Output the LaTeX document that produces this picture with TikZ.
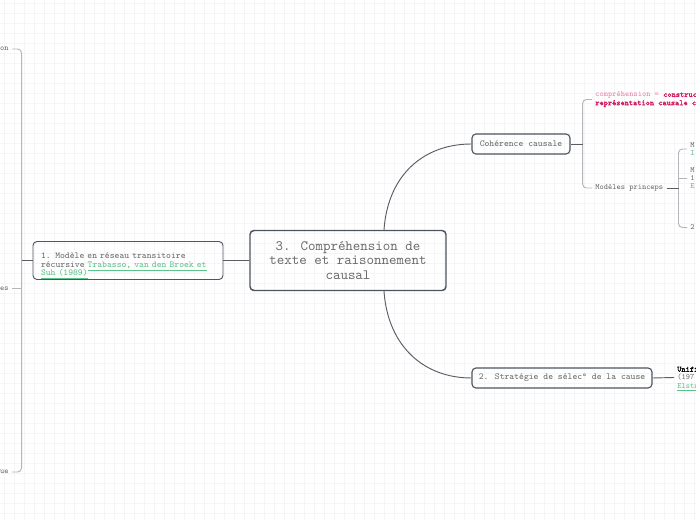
\documentclass[tikz,border=0pt]{standalone}
\usepackage{fontspec}
\newfontfamily\bmono[FakeBold=2.5]{lmmono10-regular.otf}
\usepackage{tikz}
\usepackage{xcolor}
\definecolor{edgegray}{HTML}{4E5560}
\definecolor{txtgray}{HTML}{6A6A6A}
\definecolor{brkgray}{HTML}{B4B6B9}
\definecolor{stubgray}{HTML}{5A5E64}
\definecolor{lnkgreen}{HTML}{5CC38B}
\definecolor{pinktxt}{HTML}{EC7FAA}
\definecolor{redtxt}{HTML}{D3195F}
\definecolor{gridgray}{HTML}{F5F5F7}
\newcommand{\tightlines}{\lineskiplimit=-10pt\relax}
\tikzset{
  topic/.style={draw=edgegray, rounded corners=3pt, line width=0.85pt, text=txtgray, inner sep=0pt},
  small/.style={font=\ttfamily\fontsize{6.85}{6.3}\selectfont\tightlines},
  tiny/.style={font=\ttfamily\fontsize{6}{6.2}\selectfont\tightlines, text=txtgray, inner sep=2.25pt, align=left},
  brk/.style={draw=brkgray, line width=0.7pt},
  stub/.style={draw=stubgray, line width=0.7pt},
  gridline/.style={draw=gridgray, line width=0.4pt}
}
\newcommand{\lnk}[1]{\textcolor{lnkgreen}{\smash{\underline{#1}}}}

\begin{document}
\begin{tikzpicture}[x=0.75pt,y=-0.75pt]
    \clip (0,0) rectangle (696,520);
    \fill[white] (0,0) rectangle (696,520);
    \foreach \g in {4,14,...,694} \draw[gridline] (\g,0)--(\g,520);
    \foreach \g in {3,13,...,513} \draw[gridline] (0,\g)--(696,\g);

    \node[topic, line width=1.1pt, minimum width=147pt, minimum height=45pt, align=center,
          font=\ttfamily\fontsize{10.7}{10.6}\selectfont\tightlines] (cen) at (348,260.5)
          {3. Compréhension de\\texte et raisonnement\\causal};
    \node[topic, small, line width=0.7pt, text width=130.5pt, inner xsep=6pt, minimum height=28.5pt, align=left] (n1) at (128,260.5)
          {\rule{0pt}{10pt}1. Modèle en réseau transitoire\\récursive \lnk{Trabasso, van den Broek et}\\\lnk{Suh (1989)}};
    \node[topic, small, minimum width=73.5pt, minimum height=15pt] (coh) at (521,144) {Cohérence causale};
    \node[topic, small, minimum width=135pt, minimum height=15pt] (strat) at (562,378) {2. Stratégie de sélec° de la cause};

    \draw[stub] (cen.west) -- (n1.east);
    \draw[stub] ([xshift=27pt]cen.north) .. controls ([xshift=30pt,yshift=42pt]cen.north) and ([xshift=-35pt]coh.west) .. (coh.west);
    \draw[stub] ([xshift=27pt]cen.south) .. controls ([xshift=30pt,yshift=-42pt]cen.south) and ([xshift=-35pt]strat.west) .. (strat.west);

    \node[tiny, anchor=east] (on) at (12,49) {on};
    \node[tiny, anchor=east] (es) at (12,288.5) {es};
    \node[tiny, anchor=east] (ue) at (12,472) {ue};
    \coordinate (lx) at ([xshift=-8.25pt]n1.west);
    \draw[brk, rounded corners=3pt] (on.east) -| (lx) |- (ue.east);
    \draw[brk] (es.east) -- (es.east -| lx);
    \draw[stub] (n1.west) -- (lx);

    \node[tiny, anchor=west] (cmp) at (592,99.5)
          {\textcolor{pinktxt}{compréhension =} \textcolor{redtxt}{\bmono construc}\\\textcolor{redtxt}{\bmono représentation causale c}};
    \node[tiny, anchor=west] (mp) at (592,188) {Modèles princeps};
    \coordinate (cx) at ([xshift=9pt]coh.east);
    \draw[brk, rounded corners=3pt] (cmp.west) -| (cx) |- (mp.west);
    \draw[stub] (coh.east) -- (cx);

    \node[tiny, anchor=west] (ma) at (687,149) {M\\\textcolor{lnkgreen}{I}};
    \node[tiny, anchor=west] (mb) at (687,178) {M\\1\\\textcolor{lnkgreen}{E}};
    \node[tiny, anchor=west] (mc) at (687,227.5) {2};
    \coordinate (bx) at ([xshift=9pt]mp.east);
    \draw[brk, rounded corners=3pt] (ma.west) -| (bx) |- (mc.west);
    \draw[brk] (mb.west) -- (mb.west -| bx);
    \draw[stub] (mp.east) -- (bx);

    \node[tiny, anchor=west] (uni) at (674,377.5)
          {\textcolor{black}{\bmono Unifi}\\(197\\\lnk{Elstr}};
    \draw[stub] (strat.east) -- (uni.west);
\end{tikzpicture}
\end{document}
